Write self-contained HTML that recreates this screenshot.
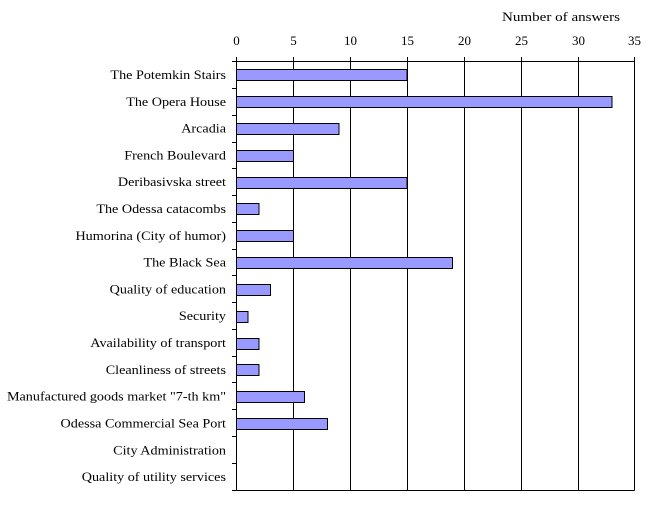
<!DOCTYPE html>
<html><head><style>body{margin:0;background:#fff}svg{display:block}text{font-family:"Liberation Serif",serif;font-size:13px;fill:#000}</style></head>
<body>
<svg width="660" height="506" viewBox="0 0 660 506" xmlns="http://www.w3.org/2000/svg">
<rect width="660" height="506" fill="#fff"/>
<text x="620" y="21" text-anchor="end" transform="translate(620,0) scale(1.16,1) translate(-620,0)">Number of answers</text>
<g stroke="#000" stroke-width="1" shape-rendering="crispEdges">
<line x1="236.5" y1="57" x2="236.5" y2="490.5"/>
<line x1="293.5" y1="57" x2="293.5" y2="490.5"/>
<line x1="350.5" y1="57" x2="350.5" y2="490.5"/>
<line x1="407.5" y1="57" x2="407.5" y2="490.5"/>
<line x1="464.5" y1="57" x2="464.5" y2="490.5"/>
<line x1="521.5" y1="57" x2="521.5" y2="490.5"/>
<line x1="578.5" y1="57" x2="578.5" y2="490.5"/>
<line x1="634.5" y1="57" x2="634.5" y2="490.5"/>
<line x1="236.5" y1="61.5" x2="634.5" y2="61.5"/>
<line x1="232" y1="490.5" x2="634.5" y2="490.5"/>
<line x1="232" y1="61.5" x2="236" y2="61.5"/>
<line x1="232" y1="88.5" x2="236" y2="88.5"/>
<line x1="232" y1="115.5" x2="236" y2="115.5"/>
<line x1="232" y1="142.5" x2="236" y2="142.5"/>
<line x1="232" y1="168.5" x2="236" y2="168.5"/>
<line x1="232" y1="195.5" x2="236" y2="195.5"/>
<line x1="232" y1="222.5" x2="236" y2="222.5"/>
<line x1="232" y1="249.5" x2="236" y2="249.5"/>
<line x1="232" y1="275.5" x2="236" y2="275.5"/>
<line x1="232" y1="302.5" x2="236" y2="302.5"/>
<line x1="232" y1="329.5" x2="236" y2="329.5"/>
<line x1="232" y1="356.5" x2="236" y2="356.5"/>
<line x1="232" y1="382.5" x2="236" y2="382.5"/>
<line x1="232" y1="409.5" x2="236" y2="409.5"/>
<line x1="232" y1="436.5" x2="236" y2="436.5"/>
<line x1="232" y1="463.5" x2="236" y2="463.5"/>
</g>
<g fill="#9999ff" stroke="#000" stroke-width="1" shape-rendering="crispEdges">
<rect x="236.5" y="69.5" width="170.6" height="11"/>
<rect x="236.5" y="96.5" width="375.3" height="11"/>
<rect x="236.5" y="123.5" width="102.3" height="11"/>
<rect x="236.5" y="150.5" width="56.9" height="11"/>
<rect x="236.5" y="177.5" width="170.6" height="11"/>
<rect x="236.5" y="203.5" width="22.7" height="11"/>
<rect x="236.5" y="230.5" width="56.9" height="11"/>
<rect x="236.5" y="257.5" width="216.1" height="11"/>
<rect x="236.5" y="284.5" width="34.1" height="11"/>
<rect x="236.5" y="311.5" width="11.4" height="11"/>
<rect x="236.5" y="338.5" width="22.7" height="11"/>
<rect x="236.5" y="364.5" width="22.7" height="11"/>
<rect x="236.5" y="391.5" width="68.2" height="11"/>
<rect x="236.5" y="418.5" width="91.0" height="11"/>
</g>
<g text-anchor="middle" style="font-size:14px">
<text x="236.5" y="45">0</text>
<text x="293.5" y="45">5</text>
<text x="350.5" y="45">10</text>
<text x="407.5" y="45">15</text>
<text x="464.5" y="45">20</text>
<text x="521.5" y="45">25</text>
<text x="578.5" y="45">30</text>
<text x="634.5" y="45">35</text>
</g>
<g text-anchor="end" transform="translate(226,0) scale(1.09,1) translate(-226,0)">
<text x="226" y="79">The Potemkin Stairs</text>
<text x="226" y="106">The Opera House</text>
<text x="226" y="132.5">Arcadia</text>
<text x="226" y="159.3">French Boulevard</text>
<text x="226" y="186.2">Deribasivska street</text>
<text x="226" y="213">The Odessa catacombs</text>
<text x="226" y="239.8">Humorina (City of humor)</text>
<text x="226" y="266.6">The Black Sea</text>
<text x="226" y="293.4">Quality of education</text>
<text x="226" y="320.2">Security</text>
<text x="226" y="347">Availability of transport</text>
<text x="226" y="373.8">Cleanliness of streets</text>
<text x="226" y="400.7">Manufactured goods market "7-th km"</text>
<text x="226" y="427.5">Odessa Commercial Sea Port</text>
<text x="226" y="454.3">City Administration</text>
<text x="226" y="481.1">Quality of utility services</text>
</g>
</svg>
</body></html>
